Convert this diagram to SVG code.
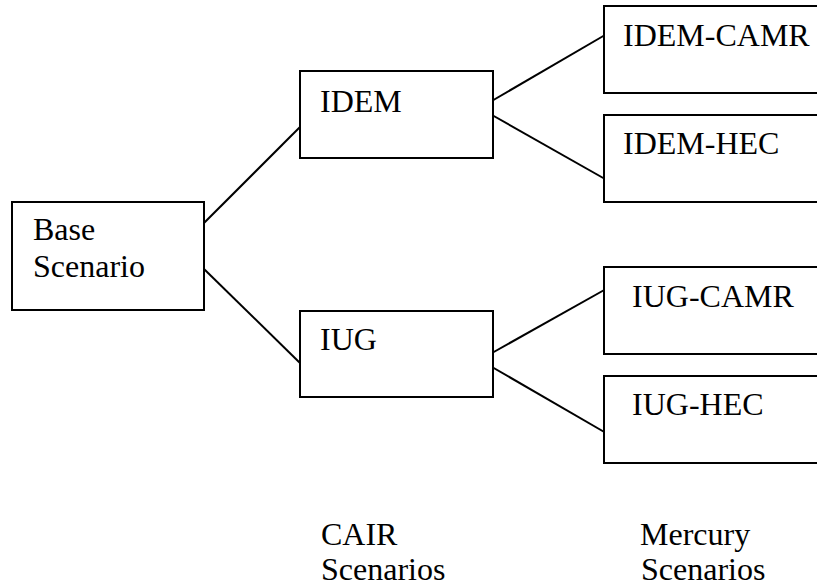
<svg xmlns="http://www.w3.org/2000/svg" width="817" height="586" viewBox="0 0 817 586">
<style>
.box{fill:#fff;stroke:#000;stroke-width:2}
line{stroke:#000;stroke-width:2}
text{font-family:"Liberation Serif","Times New Roman",serif;font-size:32px;fill:#000}
</style>
<rect width="817" height="586" fill="#fff"/>
<g id="connectors">
<line x1="204" y1="223" x2="300" y2="127"/>
<line x1="204" y1="269" x2="300" y2="363"/>
<line x1="490" y1="102" x2="605" y2="35"/>
<line x1="492" y1="115" x2="605" y2="179"/>
<line x1="492" y1="353" x2="606" y2="289"/>
<line x1="492" y1="367" x2="606" y2="433"/>
</g>
<g id="base">
<rect class="box" x="12" y="202" width="192" height="108"/>
<text x="33" y="240">Base</text>
<text x="33" y="277">Scenario</text>
</g>
<g id="idem">
<rect class="box" x="300" y="71" width="193" height="87"/>
<text x="320" y="112">IDEM</text>
</g>
<g id="iug">
<rect class="box" x="300" y="311" width="193" height="86"/>
<text x="320" y="350">IUG</text>
</g>
<g id="idem-camr">
<rect class="box" x="604" y="6" width="230" height="87"/>
<text x="623" y="46">IDEM-CAMR</text>
</g>
<g id="idem-hec">
<rect class="box" x="604" y="115" width="230" height="87"/>
<text x="623" y="154">IDEM-HEC</text>
</g>
<g id="iug-camr">
<rect class="box" x="604" y="267" width="230" height="87"/>
<text x="632" y="307">IUG-CAMR</text>
</g>
<g id="iug-hec">
<rect class="box" x="604" y="376" width="230" height="87"/>
<text x="632" y="415">IUG-HEC</text>
</g>
<g id="cair-label">
<text x="321" y="545">CAIR</text>
<text x="321" y="580">Scenarios</text>
</g>
<g id="mercury-label">
<text x="640" y="545">Mercury</text>
<text x="641" y="580">Scenarios</text>
</g>
</svg>
